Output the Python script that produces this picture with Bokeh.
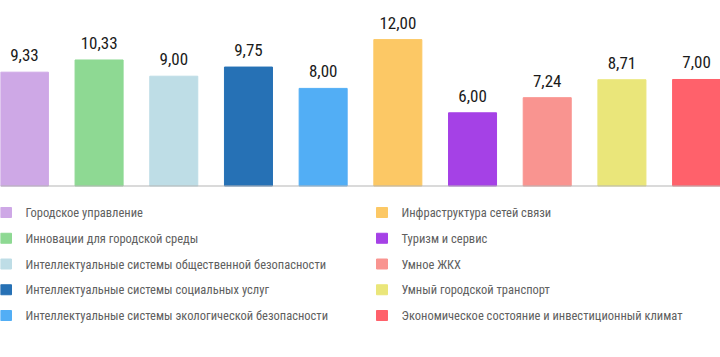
from bokeh.plotting import figure
from bokeh.models import ColumnDataSource, Range1d, Span
from bokeh.layouts import column
from bokeh.core.properties import value
from bokeh.embed import file_html
from bokeh.resources import INLINE

categories = [
    "Городское управление",
    "Инновации для городской среды",
    "Интеллектуальные системы общественной безопасности",
    "Интеллектуальные системы социальных услуг",
    "Интеллектуальные системы экологической безопасности",
    "Инфраструктура сетей связи",
    "Туризм и сервис",
    "Умное ЖКХ",
    "Умный городской транспорт",
    "Экономическое состояние и инвестиционный климат",
]
bar_heights = [9.33, 10.33, 9.00, 9.75, 8.00, 12.00, 6.00, 7.24, 8.71, 8.73]
value_labels = ["9,33", "10,33", "9,00", "9,75", "8,00", "12,00", "6,00", "7,24", "8,71", "7,00"]
colors = ["#CEA8E6", "#8ED993", "#BEDDE6", "#2671B5", "#52AEF5",
          "#FCC865", "#A541E6", "#F99490", "#EAE67A", "#FF616B"]

FONT = "Roboto Condensed"

W = 720
TOP_H = 190
BOT_H = 357 - TOP_H
PX_PER_UNIT = 12.2
BASE = 185.5

xs = list(range(len(categories)))
src = ColumnDataSource(dict(
    x=xs, top=bar_heights, color=colors, label=value_labels,
    ly=[h + 17 / PX_PER_UNIT for h in bar_heights],
))

p = figure(width=W, height=TOP_H, output_backend="svg", toolbar_location=None,
           x_range=Range1d(-0.32, len(categories) - 1 + 0.32),
           y_range=Range1d(-(TOP_H - BASE) / PX_PER_UNIT, BASE / PX_PER_UNIT),
           min_border=0)
p.axis.visible = False
p.grid.visible = False
p.outline_line_color = None
p.vbar(x="x", top="top", bottom=0, width=0.643, color="color", source=src)
p.add_layout(Span(location=0, dimension="width", line_color="#b5b5b5", line_width=1))
p.text(x="x", y="ly", text="label", source=src, text_align="center",
       text_baseline="alphabetic", text_font=value(FONT), text_font_size="17px",
       text_color="#1a1a1a")

# legend in a second figure, screen-like coordinates
rows = 5
row0 = 22
row_step = 25.75
col_sq = [5.5, 381.5]
col_tx = [25, 401]
leg = ColumnDataSource(dict(
    sx=[col_sq[i // rows] for i in xs],
    tx=[col_tx[i // rows] for i in xs],
    y=[row0 + (i % rows) * row_step for i in xs],
    color=colors, name=categories,
))
q = figure(width=W, height=BOT_H, output_backend="svg", toolbar_location=None,
           x_range=Range1d(0, W), y_range=Range1d(BOT_H, 0), min_border=0)
q.axis.visible = False
q.grid.visible = False
q.outline_line_color = None
q.rect(x="sx", y="y", width=11, height=10, width_units="screen", height_units="screen",
       color="color", source=leg)
q.text(x="tx", y="y", text="name", source=leg, text_align="left",
       text_baseline="middle", text_font=value(FONT), text_font_size="12.5px",
       text_color="#606060")

layout = column(p, q, spacing=0)
open("out.html", "w").write(file_html(layout, INLINE))
